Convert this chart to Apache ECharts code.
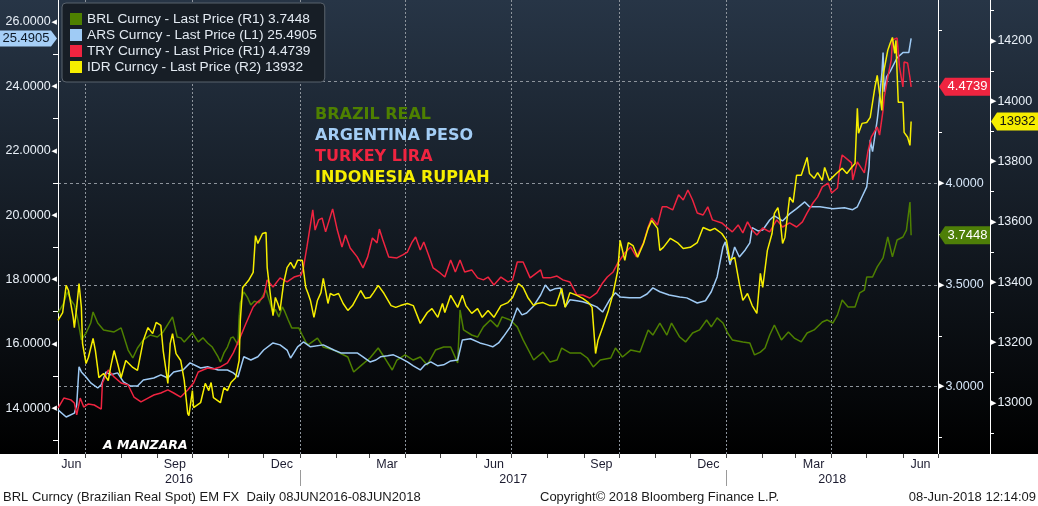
<!DOCTYPE html>
<html>
<head>
<meta charset="utf-8">
<script src="https://cdn.jsdelivr.net/npm/echarts@6/dist/echarts.min.js"></script>
<style>
html,body{margin:0;padding:0;background:#fff;}
#c{width:1038px;height:506px;}
</style>
</head>
<body>
<div id="c"></div>
<script>
// ---------- DATA: [calendar days since 08-Jun-2016, value] ----------
const startDate = [2016, 5, 8];

const BRL = [[0,3.362],[5,3.412],[8,3.466],[11,3.426],[14,3.402],[17,3.328],[20,3.230],[24,3.264],[28,3.313],[30,3.367],[34,3.313],[39,3.279],[48,3.269],[54,3.289],[60,3.180],[64,3.141],[68,3.190],[73,3.230],[79,3.254],[85,3.244],[90,3.269],[98,3.343],[102,3.244],[105,3.240],[108,3.220],[115,3.264],[120,3.220],[124,3.240],[128,3.215],[132,3.195],[137,3.146],[139,3.121],[142,3.166],[145,3.195],[148,3.240],[150,3.244],[154,3.205],[155,3.343],[156,3.412],[159,3.466],[162,3.440],[165,3.402],[168,3.420],[172,3.412],[178,3.475],[181,3.420],[184,3.362],[186,3.380],[189,3.343],[192,3.392],[194,3.370],[197,3.328],[200,3.289],[206,3.289],[209,3.254],[212,3.220],[214,3.205],[222,3.239],[227,3.195],[236,3.180],[248,3.146],[253,3.072],[260,3.107],[267,3.141],[274,3.190],[279,3.146],[286,3.082],[290,3.131],[297,3.156],[304,3.131],[310,3.146],[316,3.107],[323,3.180],[330,3.195],[336,3.195],[342,3.117],[344,3.377],[347,3.279],[354,3.254],[359,3.244],[364,3.294],[370,3.328],[376,3.294],[380,3.343],[387,3.328],[393,3.294],[398,3.230],[407,3.131],[410,3.146],[415,3.170],[421,3.121],[427,3.131],[431,3.190],[438,3.166],[447,3.166],[453,3.141],[458,3.097],[464,3.131],[473,3.141],[477,3.190],[483,3.146],[490,3.180],[498,3.170],[505,3.279],[509,3.254],[515,3.313],[521,3.254],[525,3.313],[532,3.244],[537,3.220],[543,3.264],[549,3.279],[555,3.328],[559,3.294],[564,3.338],[569,3.313],[573,3.264],[577,3.230],[586,3.220],[592,3.215],[596,3.156],[601,3.170],[605,3.190],[609,3.254],[613,3.303],[619,3.230],[625,3.269],[630,3.239],[636,3.220],[641,3.264],[647,3.279],[654,3.318],[658,3.328],[663,3.313],[667,3.353],[671,3.426],[676,3.392],[682,3.392],[686,3.461],[690,3.475],[692,3.539],[697,3.539],[701,3.589],[706,3.633],[710,3.736],[714,3.638],[718,3.721],[723,3.736],[726,3.770],[729,3.908],[730,3.7448]];

const ARS = [[0,13.95],[7,13.73],[14,13.85],[16,14.10],[18,15.29],[20,15.13],[24,14.97],[28,14.79],[34,14.63],[37,14.73],[41,15.13],[45,15.04],[51,15.10],[56,14.82],[62,14.69],[68,14.69],[73,14.88],[82,14.94],[88,15.04],[94,14.94],[99,15.13],[107,15.19],[113,15.41],[122,15.25],[128,15.29],[137,15.19],[145,15.19],[150,15.10],[154,14.97],[159,15.60],[165,15.50],[171,15.60],[176,15.81],[184,16.03],[190,15.97],[196,15.81],[199,15.56],[205,15.91],[210,16.06],[216,15.91],[227,15.97],[236,15.81],[242,15.72],[248,15.72],[256,15.72],[261,15.60],[267,15.44],[272,15.50],[276,15.60],[282,15.63],[287,15.66],[293,15.56],[299,15.44],[304,15.32],[310,15.19],[314,15.35],[319,15.44],[325,15.32],[330,15.35],[336,15.47],[342,15.50],[346,16.12],[353,16.16],[361,16.03],[367,15.97],[372,15.91],[377,16.03],[381,16.22],[387,16.53],[393,17.12],[397,16.90],[401,16.96],[407,17.18],[413,17.52],[417,17.83],[421,17.65],[425,17.71],[430,17.74],[434,17.15],[438,17.37],[444,17.34],[449,17.31],[455,17.24],[461,17.15],[466,16.99],[472,17.37],[477,17.59],[481,17.46],[489,17.43],[498,17.43],[504,17.55],[509,17.74],[515,17.62],[523,17.52],[532,17.46],[538,17.43],[547,17.27],[554,17.34],[559,17.62],[564,18.08],[569,19.01],[571,19.17],[575,18.46],[579,19.01],[583,18.70],[588,18.92],[592,19.14],[594,19.61],[599,19.51],[603,19.54],[609,19.85],[613,19.98],[620,19.82],[626,20.04],[632,20.20],[639,20.41],[643,20.26],[652,20.26],[663,20.20],[673,20.23],[680,20.17],[684,20.26],[688,20.57],[692,20.88],[694,21.50],[695,22.34],[697,21.97],[701,22.96],[702,23.27],[705,24.42],[706,25.05],[707,23.83],[709,24.30],[712,24.46],[718,24.89],[723,25.05],[728,25.05],[730,25.4905]];

const TRY = [[0,2.895],[5,2.944],[11,2.935],[14,2.920],[16,2.861],[19,2.944],[22,2.900],[26,2.915],[31,2.910],[37,2.890],[38,3.018],[43,3.082],[48,3.048],[54,3.018],[60,3.008],[65,2.949],[71,2.925],[77,2.944],[82,2.959],[88,2.969],[94,2.984],[99,2.969],[105,2.949],[111,2.984],[116,3.018],[120,3.072],[128,3.092],[133,3.087],[139,3.097],[145,3.117],[150,3.166],[156,3.244],[161,3.313],[167,3.392],[171,3.417],[176,3.441],[179,3.525],[184,3.490],[190,3.535],[196,3.515],[202,3.539],[208,3.549],[210,3.584],[213,3.687],[218,3.869],[220,3.770],[223,3.820],[226,3.829],[229,3.761],[235,3.874],[239,3.770],[243,3.687],[246,3.746],[250,3.682],[256,3.638],[261,3.584],[265,3.638],[269,3.731],[273,3.707],[275,3.775],[278,3.721],[283,3.638],[290,3.633],[295,3.648],[299,3.662],[303,3.711],[306,3.736],[310,3.672],[313,3.711],[317,3.648],[321,3.584],[327,3.559],[331,3.539],[336,3.623],[340,3.564],[344,3.623],[348,3.564],[354,3.574],[359,3.535],[364,3.525],[368,3.539],[373,3.500],[379,3.539],[385,3.515],[389,3.525],[393,3.613],[398,3.613],[404,3.535],[413,3.574],[415,3.535],[421,3.535],[427,3.544],[432,3.525],[438,3.515],[444,3.451],[449,3.451],[455,3.436],[461,3.461],[466,3.510],[470,3.539],[475,3.564],[479,3.608],[485,3.657],[490,3.687],[495,3.638],[501,3.707],[505,3.785],[508,3.829],[513,3.795],[517,3.884],[521,3.884],[526,3.869],[531,3.943],[535,3.918],[539,3.967],[543,3.918],[547,3.854],[552,3.844],[556,3.884],[560,3.820],[568,3.805],[572,3.785],[577,3.761],[582,3.795],[586,3.756],[590,3.810],[594,3.770],[598,3.746],[603,3.780],[609,3.761],[615,3.820],[620,3.785],[626,3.805],[632,3.785],[637,3.810],[641,3.854],[646,3.903],[650,3.933],[654,3.982],[659,4.001],[662,3.952],[667,3.977],[669,4.080],[671,4.139],[676,4.115],[679,4.100],[680,4.016],[684,4.105],[690,4.051],[693,4.154],[696,4.228],[701,4.277],[703,4.237],[706,4.360],[707,4.424],[710,4.520],[713,4.606],[714,4.705],[718,4.714],[720,4.572],[723,4.474],[724,4.596],[727,4.591],[729,4.520],[730,4.4739]];

const IDR = [[0,13273],[4,13299],[7,13389],[9,13372],[13,13283],[14,13249],[16,13316],[18,13395],[20,13316],[21,13196],[24,13130],[26,13150],[30,13213],[32,13173],[35,13083],[39,13097],[43,13073],[45,13117],[48,13173],[51,13130],[54,13083],[58,13140],[64,13117],[68,13107],[73,13206],[77,13249],[81,13229],[84,13266],[88,13256],[90,13173],[94,13064],[96,13196],[98,13229],[101,13163],[105,13140],[108,13074],[111,12964],[112,12957],[115,13040],[116,12984],[122,13000],[126,13064],[129,13040],[131,13067],[133,13017],[139,13000],[142,13050],[145,13040],[148,13067],[152,13083],[155,13140],[156,13273],[158,13382],[163,13405],[167,13432],[169,13554],[171,13528],[175,13561],[178,13564],[179,13448],[182,13349],[184,13289],[186,13349],[188,13330],[190,13306],[193,13395],[196,13448],[199,13465],[202,13445],[205,13472],[209,13472],[212,13382],[214,13362],[216,13339],[219,13283],[222,13339],[225,13365],[227,13412],[231,13329],[233,13362],[236,13356],[240,13362],[244,13329],[248,13306],[252,13322],[259,13372],[263,13346],[267,13349],[270,13365],[274,13389],[279,13362],[285,13322],[289,13316],[293,13322],[299,13329],[304,13322],[310,13263],[316,13299],[320,13312],[325,13283],[329,13329],[331,13299],[336,13356],[342,13316],[346,13356],[349,13322],[354,13296],[359,13312],[363,13283],[368,13306],[373,13283],[379,13322],[385,13332],[389,13349],[394,13395],[398,13382],[402,13349],[407,13322],[410,13329],[415,13332],[421,13322],[426,13322],[431,13379],[434,13316],[438,13365],[444,13356],[449,13346],[454,13332],[457,13316],[460,13163],[462,13206],[466,13249],[471,13306],[475,13362],[479,13438],[481,13538],[485,13472],[488,13531],[492,13521],[496,13482],[501,13528],[505,13578],[508,13604],[513,13578],[515,13505],[518,13515],[524,13545],[530,13531],[535,13511],[541,13515],[547,13531],[552,13581],[558,13571],[562,13578],[568,13561],[572,13538],[575,13472],[579,13482],[583,13395],[586,13339],[590,13362],[594,13322],[598,13296],[601,13429],[603,13382],[607,13505],[611,13561],[613,13628],[616,13647],[618,13604],[620,13528],[622,13548],[624,13614],[626,13681],[629,13664],[632,13754],[636,13754],[641,13813],[643,13760],[647,13744],[650,13763],[654,13737],[656,13780],[660,13737],[666,13760],[671,13777],[675,13760],[679,13780],[682,13793],[684,13976],[685,13893],[688,13926],[692,13929],[695,13946],[699,14045],[701,14085],[703,14025],[705,13969],[706,14085],[710,14168],[712,14191],[714,14211],[716,14158],[717,14201],[718,14092],[719,13996],[723,13996],[724,13896],[727,13880],[729,13853],[730,13932]];

const leftTicks  = [14, 16, 18, 20, 22, 24, 26];
const leftMinor  = [13, 15, 17, 19, 21, 23, 25];
const r1Ticks    = [3.0, 3.5, 4.0];
const r1Grid     = [3.0, 3.5, 4.0, 4.5];
const r1Minor    = [2.75, 3.25, 3.75, 4.25, 4.75];
const r2Ticks    = [13000, 13200, 13400, 13600, 13800, 14000, 14200];
const r2Minor    = [12900, 13100, 13300, 13500, 13700, 13900, 14100, 14300];
const monthAbbr  = ['Jan','Feb','Mar','Apr','May','Jun','Jul','Aug','Sep','Oct','Nov','Dec'];
const annotations = [
  ['BRAZIL REAL', '#4e8000'],
  ['ARGENTINA PESO', '#a3cdf5'],
  ['TURKEY LIRA', '#ef2440'],
  ['INDONESIA RUPIAH', '#f6ee00']
];

// ---------- helpers ----------
const dayTs = d => +new Date(startDate[0], startDate[1], startDate[2] + d);

const tMin = +new Date(2016, 5, 8), tMax = +new Date(2018, 6, 1);
const monthStarts = [], quarterStarts = [], monthLabelPos = [];
for (let y = 2016; y <= 2018; y++) {
  for (let m = 0; m < 12; m++) {
    const t = +new Date(y, m, 1), tn = +new Date(y, m + 1, 1);
    if (tn <= tMin || t > tMax) continue;
    if (t >= tMin) { monthStarts.push(t); if (m % 3 === 0) quarterStarts.push(t); }
    if (m % 3 === 2 && t < tMax) monthLabelPos.push((Math.max(t, tMin) + Math.min(tn, tMax)) / 2);
  }
}
const yearTicks = [+new Date(2017,0,1), +new Date(2018,0,1)];
const yearLabelPos = [(tMin + yearTicks[0]) / 2, (yearTicks[0] + yearTicks[1]) / 2, (yearTicks[1] + tMax) / 2];

const lastV = a => a[a.length - 1][1];
const names = [
  'BRL Curncy - Last Price (R1) ' + lastV(BRL).toFixed(4),
  'ARS Curncy - Last Price (L1) ' + lastV(ARS).toFixed(4),
  'TRY Curncy - Last Price (R1) ' + lastV(TRY).toFixed(4),
  'IDR Curncy - Last Price (R2) ' + lastV(IDR).toFixed(0)
];
const colors = ['#4e8000', '#9fcbf5', '#ef2440', '#f6ee00'];

const FONT = 'Liberation Sans';
const labelColor = '#e9f0f8';
const gridLine = '#8d949c';

function mkSeries(i, pts, yAxisIndex){
  return {
    type: 'line', name: names[i], xAxisIndex: 0, yAxisIndex: yAxisIndex,
    data: pts.map(p => [dayTs(p[0]), p[1]]),
    symbol: 'none', showSymbol: false, silent: true,
    lineStyle: { width: 1.5, color: colors[i] },
    itemStyle: { color: colors[i] },
    z: 3 + i
  };
}

const chart = echarts.init(document.getElementById('c'), null, { renderer: 'canvas' });

const option = {
  animation: false,
  backgroundColor: {
    type: 'linear', x: 0, y: 0, x2: 0, y2: 1,
    colorStops: [
      { offset: 0, color: '#273546' },
      { offset: 454/506, color: '#000000' },
      { offset: 454.5/506, color: '#ffffff' },
      { offset: 1, color: '#ffffff' }
    ]
  },
  grid: { left: 58, right: 100, top: 0, bottom: 52, containLabel: false, outerBoundsMode: 'none' },
  legend: {
    show: true, orient: 'vertical', left: 62, top: 3,
    padding: [9, 8, 8, 8], itemGap: 2, itemWidth: 12, itemHeight: 12,
    icon: 'rect', backgroundColor: '#171e26', borderColor: '#59626c', borderWidth: 1, borderRadius: 4,
    textStyle: { color: '#e3eaf2', fontSize: 13.7, fontFamily: FONT, lineHeight: 14 },
    data: [names[0], names[1], names[2], names[3]],
    selectedMode: false
  },
  xAxis: [
    { // data axis + quarter grid lines
      type: 'value', min: tMin, max: tMax, position: 'bottom',
      axisLine: { show: false },
      axisTick: { show: false, customValues: quarterStarts },
      axisLabel: { show: false },
      splitLine: { show: true, lineStyle: { color: gridLine, width: 1, type: [2, 2] } }
    },
    { // month ticks + labels
      type: 'value', min: tMin, max: tMax, position: 'bottom',
      axisLine: { show: false },
      axisTick: { show: true, customValues: monthStarts, length: 4, lineStyle: { color: '#444' } },
      axisLabel: {
        show: true, customValues: monthLabelPos, margin: 4,
        formatter: v => monthAbbr[new Date(v).getMonth()],
        color: '#1c1c30', fontSize: 12.5, fontFamily: FONT
      },
      splitLine: { show: false }
    },
    { // year separators + labels
      type: 'value', min: tMin, max: tMax, position: 'bottom', offset: 16,
      axisLine: { show: false },
      axisTick: { show: true, customValues: yearTicks, length: 16, lineStyle: { color: '#9a9a9a' } },
      axisLabel: {
        show: true, customValues: yearLabelPos, margin: 3,
        formatter: v => String(new Date(v).getFullYear()),
        color: '#1c1c30', fontSize: 12.5, fontFamily: FONT
      },
      splitLine: { show: false }
    }
  ],
  yAxis: [
    { // L1 ARS
      type: 'value', position: 'left', min: 12.58, max: 26.683,
      axisLine: { show: true, lineStyle: { color: '#ffffff', width: 1 } },
      axisTick: { show: true, customValues: leftMinor, length: 5, lineStyle: { color: '#ffffff' } },
      axisLabel: {
        show: true, customValues: leftTicks, margin: 1,
        formatter: v => '{v|' + v.toFixed(4) + '}{a|◀}',
        rich: {
          v: { color: labelColor, fontSize: 12.5, fontFamily: FONT },
          a: { color: '#ffffff', fontSize: 7, fontFamily: 'DejaVu Sans', padding: [0, 0, 0, 1] }
        }
      },
      splitLine: { show: false }
    },
    { // R1 BRL / TRY
      type: 'value', position: 'right', offset: 0, min: 2.669, max: 4.901,
      axisLine: { show: true, lineStyle: { color: '#ffffff', width: 1 } },
      axisTick: { show: false, customValues: r1Grid },
      axisLabel: {
        show: true, customValues: r1Ticks, margin: 1,
        formatter: v => '{a|▶}{v|' + v.toFixed(4) + '}',
        rich: {
          v: { color: '#d6e6f8', fontSize: 12.5, fontFamily: FONT },
          a: { color: '#ffffff', fontSize: 7, fontFamily: 'DejaVu Sans', padding: [0, 1, 0, 0] }
        }
      },
      splitLine: { show: true, lineStyle: { color: gridLine, width: 1, type: [3, 3] } }
    },
    { // R1 minor ticks
      type: 'value', position: 'right', offset: 0, min: 2.669, max: 4.901,
      axisLine: { show: false },
      axisTick: { show: true, customValues: r1Minor, length: 4, lineStyle: { color: '#ffffff' } },
      axisLabel: { show: false },
      splitLine: { show: false }
    },
    { // R2 IDR
      type: 'value', position: 'right', offset: 52, min: 12830, max: 14335,
      axisLine: { show: true, lineStyle: { color: '#ffffff', width: 1 } },
      axisTick: { show: true, customValues: r2Minor, length: 4, lineStyle: { color: '#ffffff' } },
      axisLabel: {
        show: true, customValues: r2Ticks, margin: 1,
        formatter: v => '{a|▶}{v|' + v.toFixed(0) + '}',
        rich: {
          v: { color: labelColor, fontSize: 12.5, fontFamily: FONT },
          a: { color: '#ffffff', fontSize: 7, fontFamily: 'DejaVu Sans', padding: [0, 1, 0, 0] }
        }
      },
      splitLine: { show: false }
    }
  ],
  series: [
    mkSeries(0, BRL, 1),
    mkSeries(1, ARS, 0),
    mkSeries(2, TRY, 1),
    mkSeries(3, IDR, 3)
  ]
};
chart.setOption(option);

// ---------- last-value tags, annotations, footer ----------
function tagLeft(id, y, text, bg, fg){
  return [
    { id: id + 'p', type: 'polygon', z: 50, shape: { points: [[0, y-8], [51, y-8], [57, y], [51, y+8], [0, y+8]] }, style: { fill: bg } },
    { id: id + 't', type: 'text', z: 51, x: 26, y: y, style: { text: text, fill: fg, font: '13px ' + FONT, textAlign: 'center', textVerticalAlign: 'middle', align: 'center', verticalAlign: 'middle' } }
  ];
}
function tagRight(id, x0, x1, y, text, bg, fg){
  return [
    { id: id + 'p', type: 'polygon', z: 50, shape: { points: [[x0, y], [x0+6, y-9], [x1, y-9], [x1, y+9], [x0+6, y+9]] }, style: { fill: bg } },
    { id: id + 't', type: 'text', z: 51, x: (x0 + 6 + x1) / 2, y: y, style: { text: text, fill: fg, font: '13px ' + FONT, textAlign: 'center', textVerticalAlign: 'middle', align: 'center', verticalAlign: 'middle' } }
  ];
}
const yArs = chart.convertToPixel({ yAxisIndex: 0 }, lastV(ARS));
const yTry = chart.convertToPixel({ yAxisIndex: 1 }, lastV(TRY));
const yBrl = chart.convertToPixel({ yAxisIndex: 1 }, lastV(BRL));
const yIdr = chart.convertToPixel({ yAxisIndex: 3 }, lastV(IDR));

const els = [];
els.push(...tagLeft('ars', yArs, lastV(ARS).toFixed(4), '#a6cff7', '#0c1826'));
els.push(...tagRight('try', 939, 990, yTry, lastV(TRY).toFixed(4), '#ef2440', '#ffffff'));
els.push(...tagRight('brl', 939, 990, yBrl, lastV(BRL).toFixed(4), '#4e7f08', '#ffffff'));
els.push(...tagRight('idr', 991, 1038, yIdr, lastV(IDR).toFixed(0), '#f6ee00', '#111111'));

annotations.forEach((a, i) => {
  els.push({ id: 'ann' + i, type: 'text', z: 40, x: 315, y: 115 + i * 20.8,
    style: { text: a[0], fill: a[1], font: 'bold 16px DejaVu Sans', textAlign: 'left', textVerticalAlign: 'middle', align: 'left', verticalAlign: 'middle' } });
});
els.push({ id: 'manz', type: 'text', z: 40, x: 103, y: 446,
  style: { text: 'A MANZARA', fill: '#ffffff', font: 'italic bold 12.5px DejaVu Sans', textAlign: 'left', textVerticalAlign: 'middle', align: 'left', verticalAlign: 'middle' } });
els.push({ id: 'f1', type: 'text', z: 40, x: 3, y: 497,
  style: { text: 'BRL Curncy (Brazilian Real Spot) EM FX  Daily 08JUN2016-08JUN2018', fill: '#1a1a1a', font: '13px ' + FONT, textAlign: 'left', textVerticalAlign: 'middle', align: 'left', verticalAlign: 'middle' } });
els.push({ id: 'f2', type: 'text', z: 40, x: 540, y: 497,
  style: { text: 'Copyright\u00a9 2018 Bloomberg Finance L.P.', fill: '#1a1a1a', font: '13px ' + FONT, textAlign: 'left', textVerticalAlign: 'middle', align: 'left', verticalAlign: 'middle' } });
els.push({ id: 'f3', type: 'text', z: 40, x: 1036, y: 497,
  style: { text: '08-Jun-2018 12:14:09', fill: '#1a1a1a', font: '13px ' + FONT, textAlign: 'right', textVerticalAlign: 'middle', align: 'right', verticalAlign: 'middle' } });

chart.setOption({ graphic: { elements: els } });
</script>
</body>
</html>
